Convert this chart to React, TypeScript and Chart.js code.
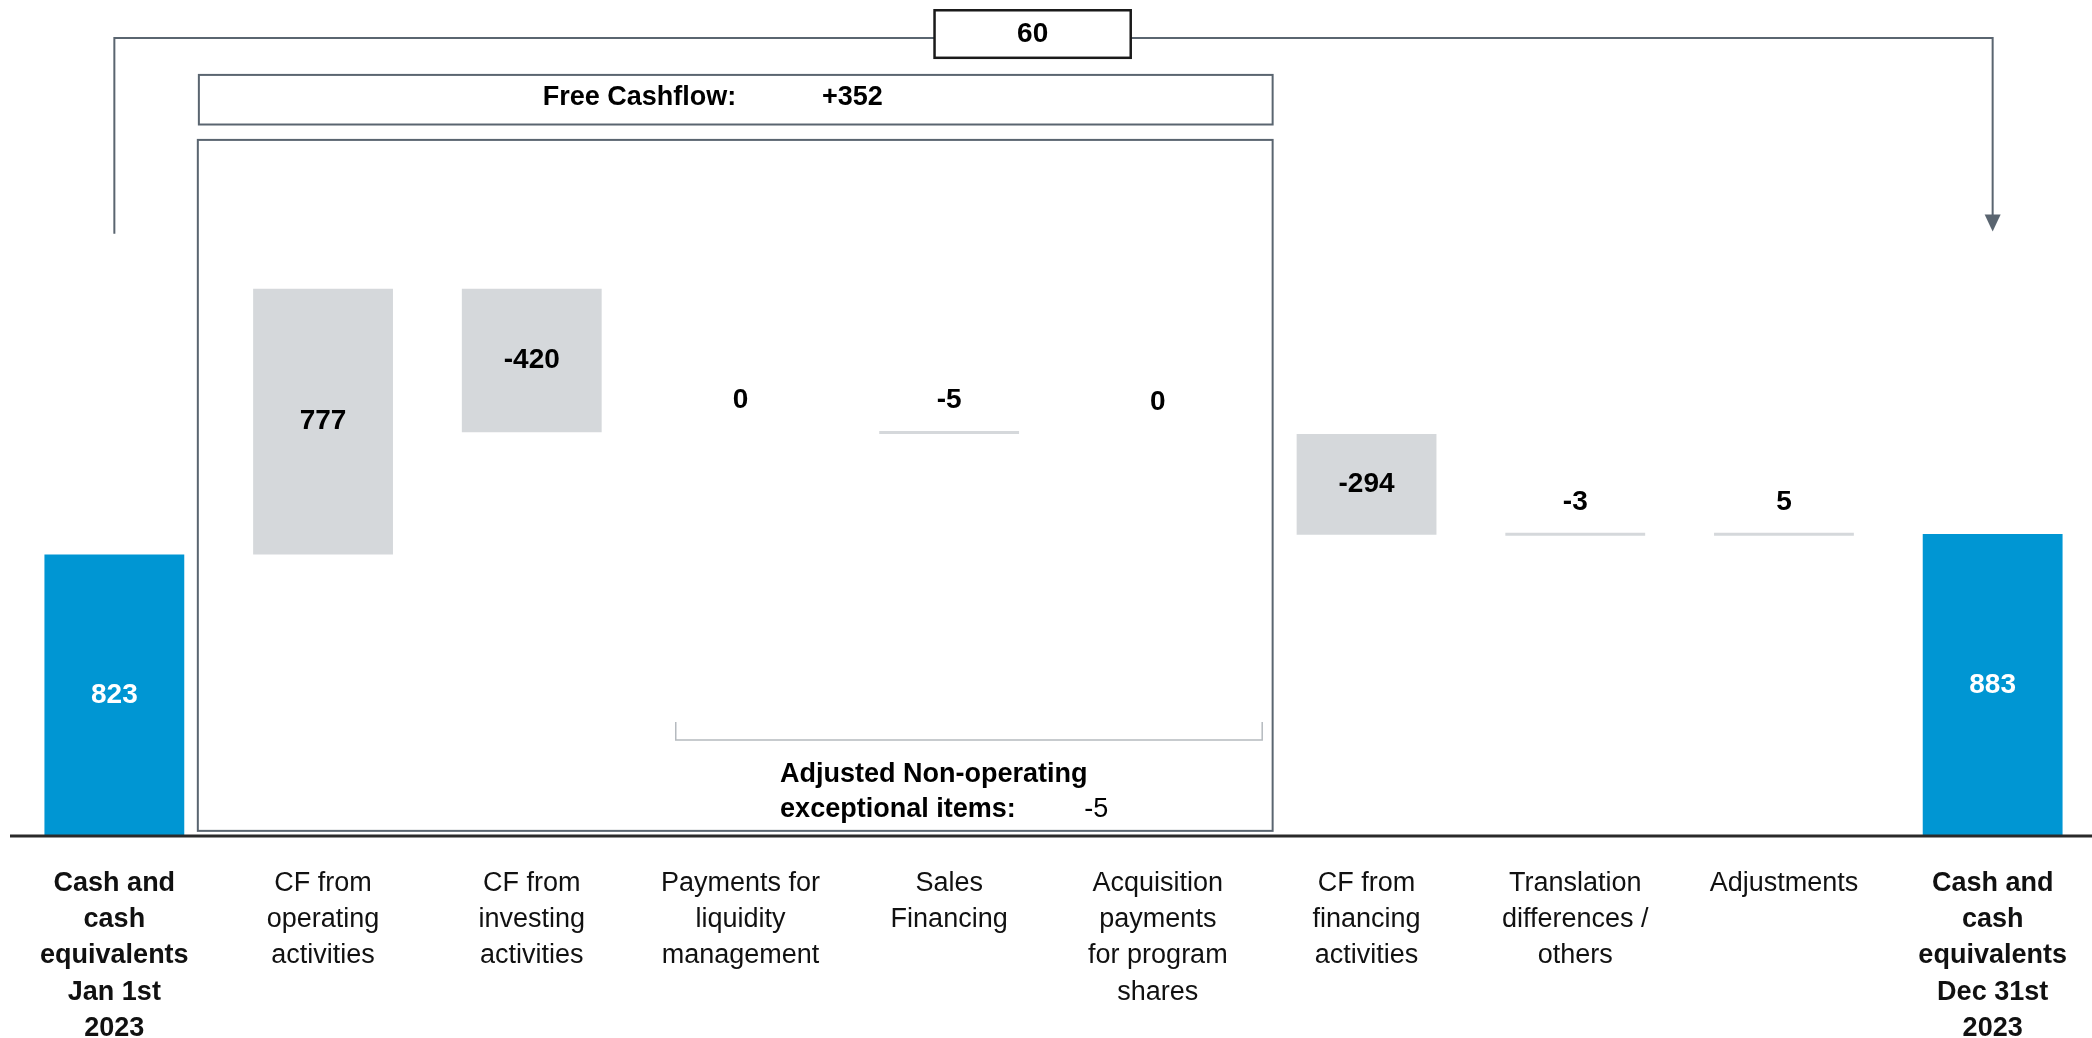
import React, { useEffect, useRef } from "react";
import { Chart, registerables } from "chart.js";

Chart.register(...registerables);

// ---------- data ----------
const categories: string[][] = [
  ["Cash and", "cash", "equivalents", "Jan 1st", "2023"],
  ["CF from", "operating", "activities"],
  ["CF from", "investing", "activities"],
  ["Payments for", "liquidity", "management"],
  ["Sales", "Financing"],
  ["Acquisition", "payments", "for program", "shares"],
  ["CF from", "financing", "activities"],
  ["Translation", "differences /", "others"],
  ["Adjustments"],
  ["Cash and", "cash", "equivalents", "Dec 31st", "2023"],
];
const openingCash = 823;
const deltas = [777, -420, 0, -5, 0, -294, -3, 5];
const closingCash = 883;
const netChange = "60";
const freeCashflowTitle = "Free Cashflow:";
const freeCashflowValue = "+352";
const nonOpTitle = ["Adjusted Non-operating", "exceptional items:"];
const nonOpValue = "-5";

// ---------- styles ----------
const BLUE = "#0096D3";
const GRAY = "#D5D8DB";
const LINE = "#5A6570";
const FONT = "'Liberation Sans', Arial, Helvetica, sans-serif";
const Y_MAX = 2444;

// floating-bar table built from the arrays
const barRanges: [number, number][] = [];
const barValues: number[] = [];
(() => {
  barRanges.push([0, openingCash]);
  barValues.push(openingCash);
  let run = openingCash;
  for (const d of deltas) {
    barRanges.push([run, run + d]);
    barValues.push(d);
    run += d;
  }
  barRanges.push([0, closingCash]);
  barValues.push(closingCash);
})();
const lastIdx = barRanges.length - 1;

const overlayPlugin = {
  id: "overlay",
  afterDatasetsDraw(chart: any) {
    const ctx: CanvasRenderingContext2D = chart.ctx;
    const xs = chart.scales.x;
    const ys = chart.scales.y;
    const x0 = xs.getPixelForValue(0);
    const step = xs.getPixelForValue(1) - x0;
    const X = (f: number) => x0 + f * step;
    const Y = (v: number) => ys.getPixelForValue(v);

    ctx.save();

    // data labels
    ctx.textAlign = "center";
    ctx.textBaseline = "middle";
    ctx.font = `bold 28px ${FONT}`;
    barRanges.forEach((r, i) => {
      const v = barValues[i];
      const lo = Math.min(r[0], r[1]);
      const hi = Math.max(r[0], r[1]);
      const total = i === 0 || i === lastIdx;
      ctx.fillStyle = total ? "#ffffff" : "#000000";
      let yy: number;
      if (Math.abs(v) >= 50) yy = (Y(lo) + Y(hi)) / 2;
      else yy = Y(hi) - 32;
      ctx.fillText(String(v), X(i), yy);
    });

    // baseline
    ctx.strokeStyle = "#2a2a2a";
    ctx.lineWidth = 3;
    ctx.beginPath();
    ctx.moveTo(chart.chartArea.left, Y(0));
    ctx.lineTo(chart.width, Y(0));
    ctx.stroke();

    // big free-cashflow frame
    ctx.strokeStyle = LINE;
    ctx.lineWidth = 2;
    ctx.strokeRect(X(0.4), Y(2035), X(5.55) - X(0.4), Y(15) - Y(2035));

    // free cashflow header box
    ctx.strokeRect(X(0.405), Y(2225), X(5.55) - X(0.405), Y(2080) - Y(2225));
    ctx.fillStyle = "#000";
    ctx.font = `bold 27px ${FONT}`;
    ctx.fillText(freeCashflowTitle, X(2.516), Y(2158));
    ctx.fillText(freeCashflowValue, X(3.536), Y(2158));

    // top bracket with arrow
    ctx.strokeStyle = LINE;
    ctx.lineWidth = 2;
    ctx.beginPath();
    ctx.moveTo(X(0), Y(1761));
    ctx.lineTo(X(0), Y(2333));
    ctx.lineTo(X(lastIdx), Y(2333));
    ctx.lineTo(X(lastIdx), Y(1767) - 14);
    ctx.stroke();
    ctx.fillStyle = LINE;
    ctx.beginPath();
    ctx.moveTo(X(lastIdx) - 8, Y(1767) - 17);
    ctx.lineTo(X(lastIdx) + 8, Y(1767) - 17);
    ctx.lineTo(X(lastIdx), Y(1767));
    ctx.closePath();
    ctx.fill();

    // net change box
    ctx.fillStyle = "#ffffff";
    ctx.fillRect(X(3.93), Y(2414), X(4.87) - X(3.93), Y(2275) - Y(2414));
    ctx.strokeStyle = "#1a1a1a";
    ctx.lineWidth = 2.5;
    ctx.strokeRect(X(3.93), Y(2414), X(4.87) - X(3.93), Y(2275) - Y(2414));
    ctx.fillStyle = "#000";
    ctx.font = `bold 28px ${FONT}`;
    ctx.textAlign = "center";
    ctx.fillText(netChange, X(4.4), Y(2345));

    // non-operating bracket
    ctx.strokeStyle = "#B5BABF";
    ctx.lineWidth = 1.5;
    ctx.beginPath();
    ctx.moveTo(X(2.69), Y(333));
    ctx.lineTo(X(2.69), Y(281));
    ctx.lineTo(X(5.5), Y(281));
    ctx.lineTo(X(5.5), Y(333));
    ctx.stroke();

    ctx.fillStyle = "#000";
    ctx.font = `bold 27px ${FONT}`;
    ctx.textAlign = "left";
    ctx.fillText(nonOpTitle[0], X(3.19), Y(180));
    ctx.fillText(nonOpTitle[1], X(3.19), Y(77));
    ctx.font = `27px ${FONT}`;
    ctx.textAlign = "center";
    ctx.fillText(nonOpValue, X(4.705), Y(77));

    ctx.restore();
  },
};

export default function App() {
  const ref = useRef<HTMLCanvasElement | null>(null);
  useEffect(() => {
    if (!ref.current) return;
    const chart = new Chart(ref.current, {
      type: "bar",
      data: {
        labels: categories as any,
        datasets: [
          {
            data: barRanges as any,
            backgroundColor: barValues.map((v, i) =>
              i === 0 || i === lastIdx ? BLUE : v === 0 ? "rgba(0,0,0,0)" : GRAY
            ),
            borderWidth: 0,
            barPercentage: 0.67,
            categoryPercentage: 1,
            minBarLength: 3,
          },
        ],
      },
      options: {
        responsive: false,
        animation: false,
        layout: { padding: { left: 10, right: 3, top: 0, bottom: 0 } },
        plugins: { legend: { display: false }, tooltip: { enabled: false } },
        scales: {
          x: {
            type: "category",
            offset: true,
            grid: { display: false, drawTicks: false },
            border: { display: false },
            ticks: {
              autoSkip: false,
              maxRotation: 0,
              minRotation: 0,
              padding: 29,
              color: "#111111",
              font: (c: any) => ({
                family: FONT,
                size: 27,
                lineHeight: 1.345,
                weight: c.index === 0 || c.index === lastIdx ? "bold" : "normal",
              }),
            },
            afterFit: (s: any) => {
              s.height = 202;
            },
          },
          y: { display: false, min: 0, max: Y_MAX },
        },
      },
      plugins: [overlayPlugin],
    });
    return () => chart.destroy();
  }, []);
  return (
    <div style={{ position: "fixed", left: 0, top: 0, width: 2100, height: 1038, background: "#fff" }}>
      <canvas ref={ref} width={2100} height={1038} style={{ width: 2100, height: 1038, display: "block" }} />
    </div>
  );
}
